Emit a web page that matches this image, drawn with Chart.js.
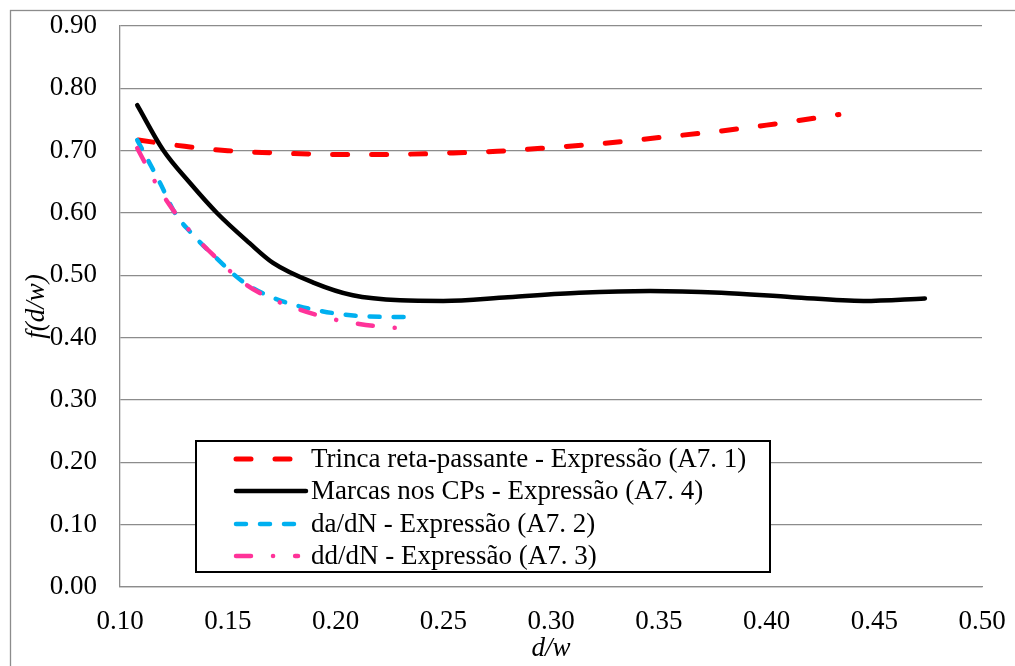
<!DOCTYPE html>
<html>
<head>
<meta charset="utf-8">
<script src="https://cdn.jsdelivr.net/npm/chart.js@4/dist/chart.umd.min.js"></script>
<style>
  html, body { margin: 0; padding: 0; background: #fff; }
  #wrap { width: 1015px; height: 666px; position: relative; }
</style>
</head>
<body>
<div id="wrap"><canvas id="c" width="1015" height="666"></canvas></div>
<script>
// ---- data ----
const seriesNames = [
  "Trinca reta-passante - Expressão (A7. 1)",
  "Marcas nos CPs - Expressão (A7. 4)",
  "da/dN - Expressão (A7. 2)",
  "dd/dN - Expressão (A7. 3)"
];
const trincaX = [0.1085, 0.130, 0.150, 0.175, 0.200, 0.225, 0.250, 0.275, 0.300, 0.325, 0.350, 0.375, 0.400, 0.4336];
const trincaY = [0.717, 0.707, 0.700, 0.696, 0.694, 0.694, 0.696, 0.699, 0.705, 0.712, 0.721, 0.730, 0.741, 0.758];
const marcasX = [0.108, 0.120, 0.1325, 0.145, 0.160, 0.171, 0.190, 0.208, 0.230, 0.250, 0.280, 0.313, 0.346, 0.379, 0.412, 0.445, 0.4735];
const marcasY = [0.773, 0.701, 0.648, 0.600, 0.552, 0.520, 0.488, 0.468, 0.460, 0.459, 0.465, 0.472, 0.475, 0.472, 0.465, 0.459, 0.463];
const dadnX = [0.108, 0.1186, 0.1255, 0.1325, 0.144, 0.157, 0.171, 0.190, 0.215, 0.236];
const dadnY = [0.717, 0.648, 0.600, 0.570, 0.530, 0.490, 0.464, 0.445, 0.434, 0.433];
const dddnX = [0.108, 0.1176, 0.1246, 0.1348, 0.145, 0.1566, 0.168, 0.1826, 0.196, 0.211, 0.2267, 0.231];
const dddnY = [0.704, 0.642, 0.605, 0.562, 0.527, 0.490, 0.466, 0.446, 0.432, 0.422, 0.416, 0.415];
const xTicks = [0.10, 0.15, 0.20, 0.25, 0.30, 0.35, 0.40, 0.45, 0.50];
const yTicks = [0.00, 0.10, 0.20, 0.30, 0.40, 0.50, 0.60, 0.70, 0.80, 0.90];
const xTitle = "d/w";
const yTitle = "f(d/w)";

const FONT = "'Liberation Serif', 'Times New Roman', serif";
const toPts = (xs, ys) => xs.map((x, i) => ({ x: x, y: ys[i] }));

const datasets = [
  { label: seriesNames[0], data: toPts(trincaX, trincaY), borderColor: '#FF0000', borderWidth: 5, borderDash: [15, 24], order: 3 },
  { label: seriesNames[1], data: toPts(marcasX, marcasY), borderColor: '#000000', borderWidth: 4.5, borderDash: [], order: 2 },
  { label: seriesNames[2], data: toPts(dadnX, dadnY), borderColor: '#00B0F0', borderWidth: 4.5, borderDash: [10, 14], order: 1 },
  { label: seriesNames[3], data: toPts(dddnX, dddnY), borderColor: '#FF3399', borderWidth: 4.5, borderDash: [15, 22, 0.1, 22], order: 0 }
].map(d => Object.assign(d, {
  fill: false, pointRadius: 0, pointHoverRadius: 0, borderCapStyle: 'round', borderJoinStyle: 'round',
  cubicInterpolationMode: 'monotone', backgroundColor: d.borderColor
}));
const legendOrder = [0, 1, 2, 3];

const frame = {
  id: 'frame',
  beforeDraw(chart) {
    const ctx = chart.ctx;
    ctx.save();
    ctx.fillStyle = '#fff';
    ctx.fillRect(0, 0, chart.width, chart.height);
    ctx.strokeStyle = '#8c8c8c';
    ctx.lineWidth = 1.3;
    ctx.strokeRect(10.5, 10.5, 1200, 800);
    ctx.restore();
  }
};

const boxLegend = {
  id: 'boxLegend',
  afterDraw(chart) {
    const ctx = chart.ctx;
    const bx = 196, by = 441, bw = 574, bh = 131;
    ctx.save();
    ctx.fillStyle = '#fff';
    ctx.fillRect(bx, by, bw, bh);
    ctx.strokeStyle = '#000';
    ctx.lineWidth = 2;
    ctx.strokeRect(bx, by, bw, bh);
    const rowY = [459, 491, 524, 556];
    ctx.font = '27px ' + FONT;
    ctx.textBaseline = 'middle';
    ctx.textAlign = 'left';
    legendOrder.forEach((di, i) => {
      const ds = chart.data.datasets[di];
      const y = rowY[i];
      ctx.beginPath();
      ctx.strokeStyle = ds.borderColor;
      ctx.lineWidth = ds.borderWidth;
      ctx.lineCap = 'round';
      ctx.setLineDash(ds.borderDash || []);
      ctx.moveTo(236, y);
      ctx.lineTo(di === 1 ? 306 : 298, y);
      ctx.stroke();
      ctx.setLineDash([]);
      ctx.fillStyle = '#000';
      ctx.fillText(ds.label, 311, y + 1);
    });
    ctx.restore();
  }
};

new Chart(document.getElementById('c'), {
  type: 'line',
  data: { datasets: datasets },
  options: {
    responsive: false,
    animation: false,
    events: [],
    layout: { padding: { top: 26, right: 33, left: 0, bottom: 0 } },
    plugins: { legend: { display: false }, tooltip: { enabled: false } },
    scales: {
      x: {
        type: 'linear', min: 0.10, max: 0.50,
        afterBuildTicks: (s) => { s.ticks = xTicks.map(v => ({ value: v })); },
        afterFit: (s) => { s.height = 79; s.paddingLeft = 0; s.paddingRight = 0; },
        grid: { display: false, drawTicks: false },
        border: { display: true, color: '#8c8c8c', width: 1.3 },
        ticks: { color: '#000', padding: 21, maxRotation: 0, autoSkip: false,
                 font: { family: FONT, size: 27, lineHeight: 1 },
                 callback: (v) => Number(v).toFixed(2) },
        title: { display: true, text: xTitle, color: '#000',
                 font: { family: FONT, size: 27, style: 'italic', lineHeight: 1 },
                 padding: { top: 0, bottom: 4 } }
      },
      y: {
        type: 'linear', min: 0, max: 0.90,
        afterBuildTicks: (s) => { s.ticks = yTicks.map(v => ({ value: v })); },
        afterFit: (s) => { s.width = 120; s.paddingTop = 0; s.paddingBottom = 0; },
        grid: { display: true, color: '#8c8c8c', lineWidth: 1.3, drawTicks: false },
        border: { display: true, color: '#8c8c8c', width: 1.3 },
        ticks: { color: '#000', padding: 23, autoSkip: false,
                 font: { family: FONT, size: 27, lineHeight: 1 },
                 callback: (v) => Number(v).toFixed(2) },
        title: { display: true, text: yTitle, color: '#000',
                 font: { family: FONT, size: 27, style: 'italic', lineHeight: 1 },
                 padding: { top: 23, bottom: 0 } }
      }
    }
  },
  plugins: [frame, boxLegend]
});
</script>
</body>
</html>
